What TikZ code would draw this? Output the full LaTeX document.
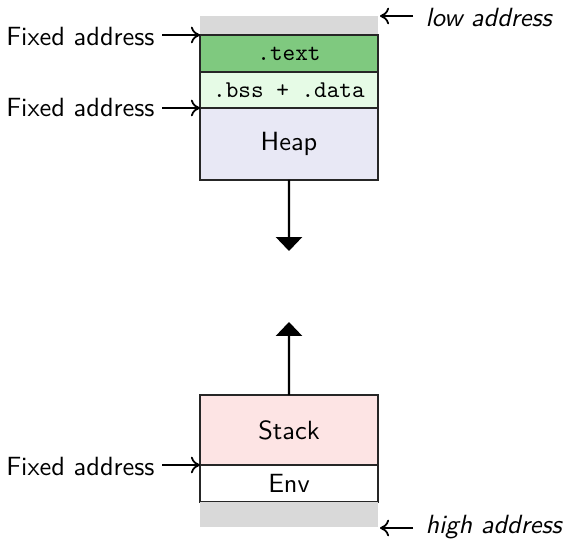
\documentclass[tikz,border=0pt]{standalone}
\usepackage{fontspec}
\usetikzlibrary{arrows.meta}
\definecolor{graypad}{HTML}{D9D9D9}
\definecolor{textgreen}{HTML}{7FC97F}
\definecolor{bssgreen}{HTML}{E6FBE6}
\definecolor{heapblue}{HTML}{E8E8F5}
\definecolor{stackpink}{HTML}{FDE4E4}
\begin{document}
\begin{tikzpicture}[x=0.395pt,y=-0.395pt]
\useasboundingbox (0,0) rectangle (564,539);
\tikzset{
  padbox/.style={fill=graypad, minimum width=70.3pt, inner sep=0pt, outer sep=0pt, anchor=north west},
  segbox/.style={draw=black!85, line width=0.6pt, minimum width=70.3pt, inner sep=0pt, outer sep=0pt, anchor=north west, font=\sffamily\fontsize{10.4}{12}\selectfont},
  monotext/.style={font=\ttfamily\fontsize{9.5}{11}\selectfont},
  lbl/.style={font=\sffamily\fontsize{10.4}{12}\selectfont, inner sep=0pt},
  addrlbl/.style={font=\sffamily\itshape\fontsize{10.4}{12}\selectfont, inner sep=0pt},
  ptrarrow/.style={line width=0.7pt, -{Computer Modern Rightarrow[length=3.6pt,width=6.6pt]}},
  growarrow/.style={line width=0.8pt, -{Triangle[width=10.3pt,length=5.5pt]}}
}
% top region
\node[padbox, minimum height=7.5pt] (lowpad) at (200,16) {};
\node[segbox, monotext, fill=textgreen, minimum height=14.6pt] (text) at (200,35) {.text};
\node[segbox, monotext, fill=bssgreen, minimum height=14.2pt] (bss) at (200,72) {.bss + .data};
\node[segbox, fill=heapblue, minimum height=28.4pt] (heap) at (200,108) {Heap};
% bottom region
\node[segbox, fill=stackpink, minimum height=27.7pt] (stack) at (200,395) {Stack};
\node[segbox, fill=white, minimum height=14.6pt] (env) at (200,465) {Env};
\node[padbox, minimum height=9.9pt] (highpad) at (200,502) {};
% growth arrows
\coordinate (heapend) at (289,251);
\coordinate (stackend) at (289,322);
\draw[growarrow] (heap.south) -- (heapend);
\draw[growarrow] (stack.north) -- (stackend);
% fixed address labels
\node[lbl, anchor=east] (fa1) at (155,37) {Fixed address};
\node[lbl, anchor=east] (fa2) at (155,108) {Fixed address};
\node[lbl, anchor=east] (fa3) at (155,467) {Fixed address};
\coordinate (fa1tail) at (162,35);
\coordinate (fa2tail) at (162,108);
\coordinate (fa3tail) at (162,465);
\draw[ptrarrow] (fa1tail) -- (text.north west);
\draw[ptrarrow] (fa2tail) -- (heap.north west);
\draw[ptrarrow] (fa3tail) -- (env.north west);
% address labels
\node[addrlbl, anchor=west] (low) at (425,18) {low address};
\node[addrlbl, anchor=west] (high) at (425,527) {high address};
\coordinate (lowtail) at (413,16);
\coordinate (lowtip) at (380,16);
\coordinate (hightail) at (413,528);
\coordinate (hightip) at (380,528);
\draw[ptrarrow] (lowtail) -- (lowtip);
\draw[ptrarrow] (hightail) -- (hightip);
\end{tikzpicture}
\end{document}
